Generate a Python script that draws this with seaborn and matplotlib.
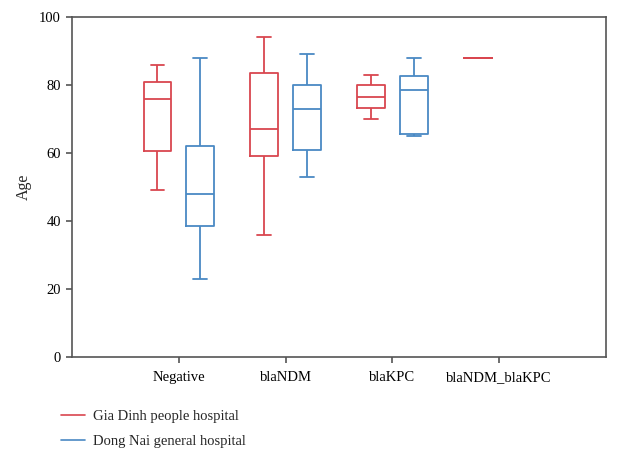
import matplotlib
matplotlib.use("Agg")
import matplotlib.pyplot as plt
from matplotlib.lines import Line2D
import seaborn as sns
import pandas as pd

categories = ["Negative", "blaNDM", "blaKPC", "blaNDM_blaKPC"]
hospitals = ["Gia Dinh people hospital", "Dong Nai general hospital"]

# five-number summaries (min, Q1, median, Q3, max)
gia_dinh = {
    "Negative": [49, 60.7, 76, 81, 86],
    "blaNDM": [36, 59, 67, 83.4, 94],
    "blaKPC": [70, 73.1, 76.5, 80, 83],
    "blaNDM_blaKPC": [88, 88, 88, 88, 88],
}
dong_nai = {
    "Negative": [23, 38.6, 48, 62.2, 88],
    "blaNDM": [53, 61, 73, 80, 89],
    "blaKPC": [65, 65.7, 78.4, 82.7, 88],
}
y_ticks = [0, 20, 40, 60, 80, 100]

rows = []
for cat, vals in gia_dinh.items():
    for v in vals:
        rows.append({"Group": cat, "Hospital": hospitals[0], "Age": v})
for cat, vals in dong_nai.items():
    for v in vals:
        rows.append({"Group": cat, "Hospital": hospitals[1], "Age": v})
df = pd.DataFrame(rows)

sns.set_style("white")
plt.rcParams["font.family"] = ["Liberation Serif", "DejaVu Serif"]

colors = ["#d9464f", "#4a89c4"]
fig = plt.figure(figsize=(6.17, 4.59), dpi=100)
ax = fig.add_axes([0.1167, 0.2222, 0.8655, 0.7408])

sns.boxplot(data=df, x="Group", y="Age", hue="Hospital", order=categories,
            hue_order=hospitals, palette=colors, fill=False, gap=0.35,
            whis=(0, 100), linewidth=1.3, legend=False, ax=ax)

ax.set_xlim(-1, 4)
ax.set_ylim(0, 100)
ax.set_yticks(y_ticks)
ax.set_xlabel("")
ax.set_ylabel("Age", fontsize=11.5, labelpad=5)
ax.tick_params(axis="both", direction="out", length=4, width=1.2,
               color="#555555", labelsize=10.5, labelcolor="black",
               bottom=True, left=True)
ax.tick_params(axis="x", pad=6)
ax.tick_params(axis="y", pad=4)
for s in ax.spines.values():
    s.set_color("#555555")
    s.set_linewidth(1.2)

handles = [Line2D([0], [0], color=c, lw=1.2) for c in colors]
fig.legend(handles, hospitals, loc="upper left", bbox_to_anchor=(0.078, 0.135),
           frameon=False, fontsize=10.5, handlelength=1.65, handletextpad=0.55,
           labelspacing=0.8)

fig.savefig("out.png", dpi=100)
